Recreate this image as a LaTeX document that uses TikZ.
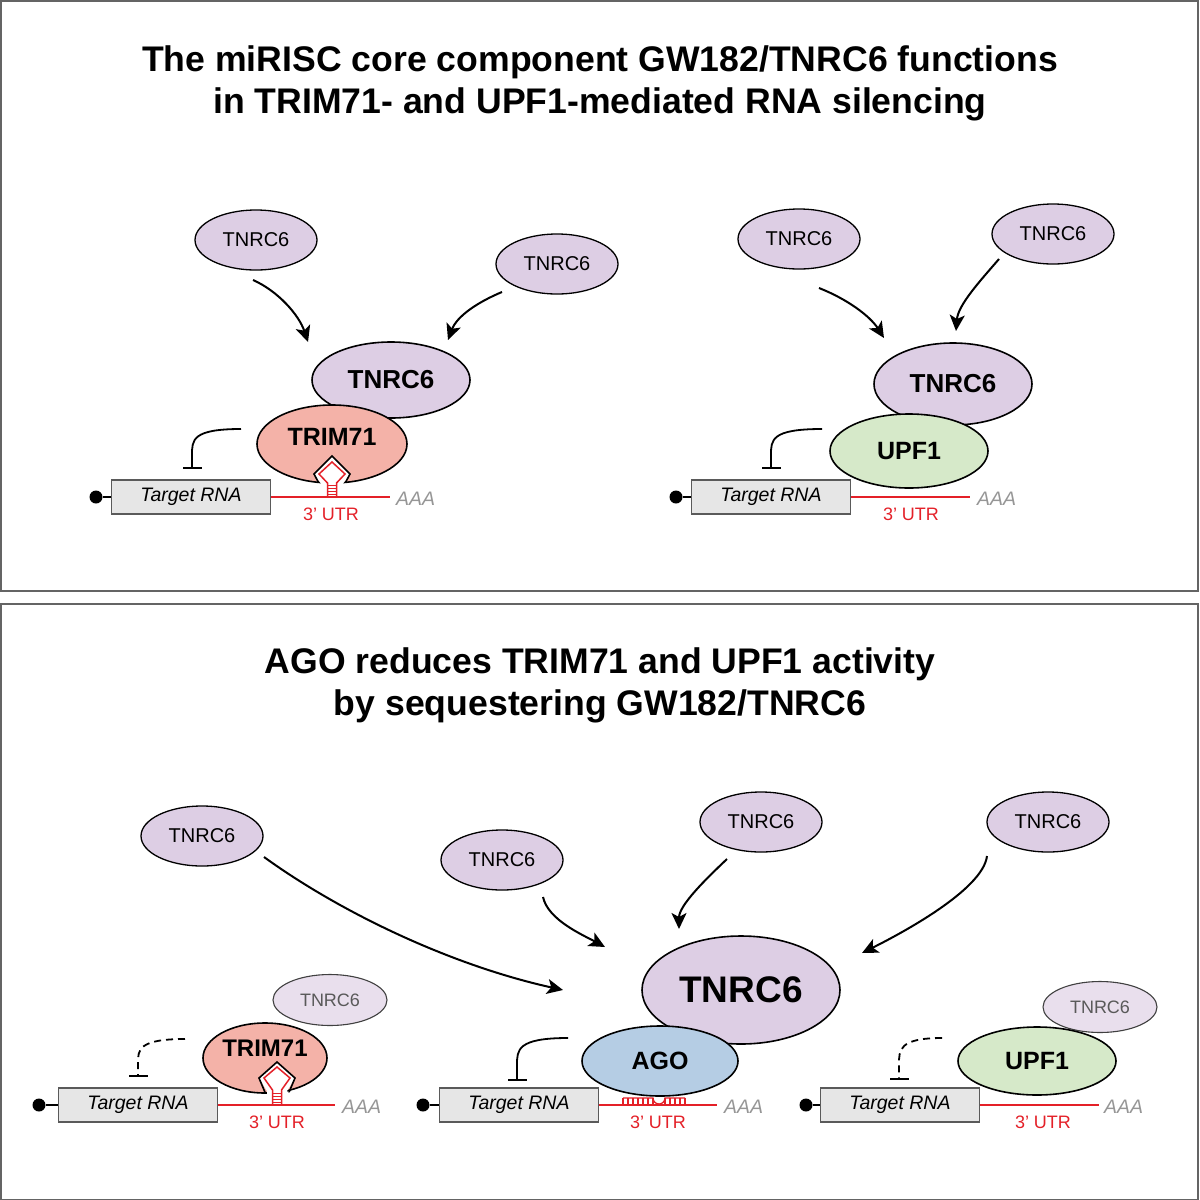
\documentclass[tikz,border=0pt]{standalone}
\usepackage{fontspec}
\setmainfont{Liberation Sans}
\usetikzlibrary{shapes.geometric,arrows.meta}
\definecolor{tnc}{RGB}{221,206,228}
\definecolor{tnclight}{RGB}{233,223,237}
\definecolor{trimc}{RGB}{244,178,168}
\definecolor{upfc}{RGB}{214,233,201}
\definecolor{agoc}{RGB}{181,205,228}
\definecolor{boxc}{RGB}{230,230,230}
\definecolor{boxline}{RGB}{90,90,90}
\definecolor{rnared}{RGB}{228,32,40}
\definecolor{aaagray}{RGB}{150,150,150}
\definecolor{panelgray}{RGB}{100,100,100}
\begin{document}
\begin{tikzpicture}[x=1pt,y=-1pt,
  prot/.style={ellipse, draw=black, line width=1.6pt, inner sep=0pt},
  tnsmall/.style={prot, fill=tnc, minimum width=122pt, minimum height=60pt, line width=1.3pt, font=\fontsize{20}{24}\selectfont},
  tnlight/.style={ellipse, draw=black!75, line width=1.1pt, inner sep=0pt, fill=tnclight, text=black!65, minimum width=114pt, minimum height=51pt, font=\fontsize{18}{22}\selectfont},
  tnbig/.style={prot, fill=tnc, font=\bfseries\fontsize{26}{30}\selectfont},
  trim/.style={prot, fill=trimc, font=\bfseries\fontsize{25}{30}\selectfont},
  upf/.style={prot, fill=upfc, font=\bfseries\fontsize{25}{30}\selectfont},
  ago/.style={prot, fill=agoc, font=\bfseries\fontsize{25}{30}\selectfont},
  rnabox/.style={draw=boxline, fill=boxc, line width=1.2pt, minimum width=159pt, minimum height=34pt, inner sep=0pt, font=\itshape\fontsize{19.5}{22}\selectfont},
  capdot/.style={circle, fill=black, minimum size=13pt, inner sep=0pt},
  aaa/.style={anchor=west, text=aaagray, inner sep=0pt, font=\itshape\fontsize{19.5}{22}\selectfont},
  utr/.style={text=rnared, inner sep=0pt, font=\fontsize{18}{22}\selectfont},
  utrline/.style={draw=rnared, line width=1.8pt},
  capline/.style={draw=black, line width=1.6pt},
  act/.style={draw=black, line width=2pt, -{Stealth[length=16pt,width=15pt,inset=4pt]}},
  inh/.style={draw=black, line width=1.8pt, -{Bar[width=19pt,line width=1.8pt]}},
  inhdash/.style={inh, dash pattern=on 7pt off 5pt},
  titletext/.style={align=center, font=\bfseries\fontsize{35.6}{42}\selectfont},
  panel/.style={draw=panelgray, line width=2pt}
]
\useasboundingbox (0,0) rectangle (1200,1200);
\fill[white] (0,0) rectangle (1200,1200);

% panels
\draw[panel] (1,1) rectangle (1198,591);
\draw[panel] (1,604) rectangle (1198,1200);

% titles
\node[titletext] (title1) at (600,83) {The miRISC core component GW182/TNRC6 functions\\in TRIM71- and UPF1-mediated RNA silencing};
\node[titletext] (title2) at (600,685) {AGO reduces TRIM71 and UPF1 activity\\by sequestering GW182/TNRC6};

% ---------------- top left ----------------
\node[tnsmall] (tl1) at (256,240) {TNRC6};
\node[tnsmall] (tl2) at (557,264) {TNRC6};
\node[tnbig, minimum width=158pt, minimum height=76pt] (tlbig) at (391,380) {TNRC6};
\node[trim, minimum width=150pt, minimum height=78pt] (trim1) at (332,444) {};
\node[font=\bfseries\fontsize{25}{30}\selectfont, inner sep=0pt] (trim1t) at (332,437) {TRIM71};
\coordinate (a1s) at (253,280); \coordinate (a1e) at (308,342);
\draw[act] (a1s) .. controls (278,291) and (299,315) .. (a1e);
\coordinate (a2s) at (502,292); \coordinate (a2e) at (448,340);
\draw[act] (a2s) .. controls (478,302) and (457,316) .. (a2e);

\node[rnabox] (box1) at (191,497) {Target RNA};
\node[capdot] (cap1) at (96,497) {};
\draw[capline] (cap1) -- (box1.west);
\coordinate (end1) at (390,497);
\draw[utrline] (box1.east) -- (end1);
\node[aaa] (aaa1) at (396,499) {AAA};
\node[utr] (utr1) at (331,514) {3’ UTR};
% stem loop top
\begin{scope}[shift={(332,497)}]
  \fill[white] (-10,-12) -- (-18,-23) -- (0,-41) -- (18,-23) -- (10,-12) -- (10,-6) -- (-10,-6) -- cycle;
  \begin{scope}
    \clip (0,-53) ellipse [x radius=75, y radius=39];
    \draw[line width=1.6pt, line join=miter] (-10,-8) -- (-18,-23) -- (0,-41) -- (18,-23) -- (10,-8);
  \end{scope}
  \draw[rnared, line width=1.5pt, line join=miter] (-4.5,0) -- (-4.5,-14) -- (-13,-23) -- (0,-35) -- (13,-23) -- (4.5,-14) -- (4.5,0);
  \foreach \yy in {-3,-6,-9,-12} \draw[rnared, line width=0.6pt] (-4.5,\yy) -- (4.5,\yy);
\end{scope}
\coordinate (i1s) at (241,429); \coordinate (i1e) at (192,469);
\draw[inh] (i1s) .. controls (192,429) and (192,440) .. (192,455) -- (i1e);

% ---------------- top right ----------------
\node[tnsmall] (tr1) at (799,239) {TNRC6};
\node[tnsmall] (tr2) at (1053,234) {TNRC6};
\node[tnbig, minimum width=158pt, minimum height=82pt] (trbig) at (953,384) {TNRC6};
\node[upf, minimum width=158pt, minimum height=74pt] (upf1) at (909,451) {UPF1};
\coordinate (a3s) at (819,288); \coordinate (a3e) at (884,338);
\draw[act] (a3s) .. controls (847,299) and (870,316) .. (a3e);
\coordinate (a4s) at (999,259); \coordinate (a4e) at (956,331);
\draw[act] (a4s) .. controls (980,281) and (958,305) .. (a4e);

\node[rnabox] (box2) at (771,497) {Target RNA};
\node[capdot] (cap2) at (676,497) {};
\draw[capline] (cap2) -- (box2.west);
\coordinate (end2) at (970,497);
\draw[utrline] (box2.east) -- (end2);
\node[aaa] (aaa2) at (977,499) {AAA};
\node[utr] (utr2) at (911,514) {3’ UTR};
\coordinate (i2s) at (822,429); \coordinate (i2e) at (771,469);
\draw[inh] (i2s) .. controls (771,429) and (771,440) .. (771,455) -- (i2e);

% ---------------- bottom ----------------
\node[tnsmall] (b1) at (202,836) {TNRC6};
\node[tnsmall] (b2) at (502,860) {TNRC6};
\node[tnsmall] (b3) at (761,822) {TNRC6};
\node[tnsmall] (b4) at (1048,822) {TNRC6};
\node[tnbig, minimum width=198pt, minimum height=108pt, font=\bfseries\fontsize{37}{40}\selectfont] (bbig) at (741,990) {TNRC6};
\node[ago, minimum width=156pt, minimum height=70pt] (ago) at (660,1061) {AGO};

\coordinate (a5s) at (264,857); \coordinate (a5e) at (563,990);
\draw[act] (a5s) .. controls (340,912) and (450,965) .. (a5e);
\coordinate (a6s) at (543,897); \coordinate (a6e) at (605,947);
\draw[act] (a6s) .. controls (548,920) and (583,935) .. (a6e);
\coordinate (a7s) at (727,859); \coordinate (a7e) at (679,929);
\draw[act] (a7s) .. controls (707,878) and (679,905) .. (a7e);
\coordinate (a8s) at (987,856); \coordinate (a8e) at (862,953);
\draw[act] (a8s) .. controls (983,890) and (900,934) .. (a8e);

% bottom left: TRIM71
\node[tnlight] (bl6) at (330,1000) {TNRC6};
\node[trim, minimum width=124pt, minimum height=70pt] (trim2) at (265,1058) {};
\node[font=\bfseries\fontsize{24}{30}\selectfont, inner sep=0pt] (trim2t) at (265,1048) {TRIM71};
\node[rnabox] (box3) at (138,1105) {Target RNA};
\node[capdot] (cap3) at (39,1105) {};
\draw[capline] (cap3) -- (box3.west);
\coordinate (end3) at (335,1105);
\draw[utrline] (box3.east) -- (end3);
\node[aaa] (aaa3) at (342,1107) {AAA};
\node[utr] (utr3) at (277,1122) {3’ UTR};
\begin{scope}[shift={(277,1105)}]
  \fill[white] (-10,-14) -- (-18,-27) -- (0,-43) -- (18,-27) -- (10,-14) -- (10,-6) -- (-10,-6) -- cycle;
  \begin{scope}
    \clip (0,-47) ellipse [x radius=62, y radius=35];
    \draw[line width=1.6pt, line join=miter] (-10,-8) -- (-18,-27) -- (0,-43) -- (18,-27) -- (10,-8);
  \end{scope}
  \draw[rnared, line width=1.5pt, line join=miter] (-4.5,0) -- (-4.5,-15) -- (-13,-27) -- (0,-38) -- (13,-27) -- (4.5,-15) -- (4.5,0);
  \foreach \yy in {-3,-6,-9,-12} \draw[rnared, line width=0.6pt] (-4.5,\yy) -- (4.5,\yy);
\end{scope}
\coordinate (i3s) at (185,1039); \coordinate (i3e) at (138,1077);
\draw[inhdash] (i3s) .. controls (138,1039) and (138,1050) .. (138,1063) -- (i3e);

% bottom middle: AGO
\node[rnabox] (box4) at (519,1105) {Target RNA};
\node[capdot] (cap4) at (423,1105) {};
\draw[capline] (cap4) -- (box4.west);
\coordinate (end4) at (717,1105);
\draw[utrline] (box4.east) -- (end4);
\node[aaa] (aaa4) at (724,1107) {AAA};
\node[utr] (utr4) at (658,1122) {3’ UTR};
\draw[rnared, line width=1.3pt] (623,1098) -- (653,1098) arc[start angle=180, end angle=0, radius=6] -- (685,1098);
\foreach \xx in {623,628,633,638,643,648,653,665,670,675,680,685}
  \draw[rnared, line width=1.1pt] (\xx,1098) -- (\xx,1105);
\coordinate (i4s) at (568,1038); \coordinate (i4e) at (517,1081);
\draw[inh] (i4s) .. controls (517,1038) and (517,1050) .. (517,1065) -- (i4e);

% bottom right: UPF1
\node[tnlight] (br6) at (1100,1007) {TNRC6};
\node[upf, minimum width=158pt, minimum height=68pt] (upf2) at (1037,1061) {UPF1};
\node[rnabox] (box5) at (900,1105) {Target RNA};
\node[capdot] (cap5) at (806,1105) {};
\draw[capline] (cap5) -- (box5.west);
\coordinate (end5) at (1099,1105);
\draw[utrline] (box5.east) -- (end5);
\node[aaa] (aaa5) at (1104,1107) {AAA};
\node[utr] (utr5) at (1043,1122) {3’ UTR};
\coordinate (i5s) at (942,1038); \coordinate (i5e) at (899,1080);
\draw[inhdash] (i5s) .. controls (899,1038) and (899,1050) .. (899,1064) -- (i5e);
\end{tikzpicture}
\end{document}
